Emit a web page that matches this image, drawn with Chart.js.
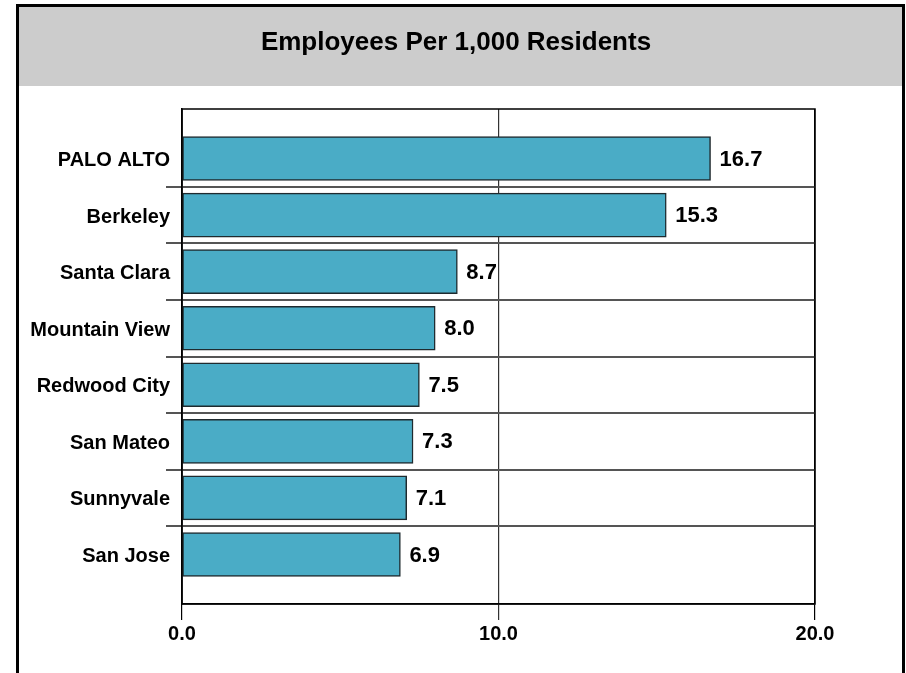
<!DOCTYPE html>
<html lang="en">
<head>
    <meta charset="UTF-8">
    <title>Employees Per 1,000 Residents</title>
    <style>
        html, body { margin: 0; padding: 0; background: #fff; }
        canvas { display: block; }
    </style>
</head>
<body>
    <canvas id="myChart" width="906" height="673"></canvas>

    <script src="https://cdn.jsdelivr.net/npm/chart.js"></script>
    <script>
        const chartTitle = 'Employees Per 1,000 Residents';
        const cities = ['PALO ALTO', 'Berkeley', 'Santa Clara', 'Mountain View', 'Redwood City', 'San Mateo', 'Sunnyvale', 'San Jose'];
        const employees = [16.7, 15.3, 8.7, 8.0, 7.5, 7.3, 7.1, 6.9];
        const xTicks = [0, 10, 20];

        const FONT = '"Liberation Sans", Arial, sans-serif';

        // grey header band, outer frame and title
        const background = {
            id: 'background',
            beforeDraw(chart) {
                const c = chart.ctx;
                c.save();
                c.fillStyle = '#fff';
                c.fillRect(0, 0, chart.width, chart.height);
                c.fillStyle = '#cccccc';
                c.fillRect(18, 6, 886, 80);
                c.strokeStyle = '#000';
                c.lineWidth = 3;
                c.beginPath();
                c.moveTo(17.5, 680);
                c.lineTo(17.5, 5.5);
                c.lineTo(903.5, 5.5);
                c.lineTo(903.5, 680);
                c.stroke();
                c.fillStyle = '#000';
                c.font = 'bold 26px ' + FONT;
                c.textAlign = 'center';
                c.textBaseline = 'alphabetic';
                c.fillText(chartTitle, 456, 50);
                c.restore();
            },
            afterDraw(chart) {
                const a = chart.chartArea;
                const c = chart.ctx;
                c.save();
                c.strokeStyle = '#000';
                c.lineWidth = 1.5;
                c.strokeRect(a.left, a.top, a.right - a.left, a.bottom - a.top);
                c.restore();
            }
        };

        // value text to the right of each bar
        const valueLabels = {
            id: 'valueLabels',
            afterDatasetsDraw(chart) {
                const c = chart.ctx;
                c.save();
                c.fillStyle = '#000';
                c.font = 'bold 22px ' + FONT;
                c.textAlign = 'left';
                c.textBaseline = 'middle';
                chart.getDatasetMeta(0).data.forEach((bar, i) => {
                    c.fillText(employees[i].toFixed(1), bar.x + 9, bar.y + 1);
                });
                c.restore();
            }
        };

        new Chart(document.getElementById('myChart'), {
            type: 'bar',
            data: {
                datasets: [{
                    data: employees.map((v, i) => ({ x: v, y: i })),
                    backgroundColor: '#4aacc6',
                    borderColor: '#1f2a2e',
                    borderWidth: 1.5,
                    borderSkipped: false,
                    barThickness: 44
                }]
            },
            options: {
                indexAxis: 'y',
                responsive: false,
                animation: false,
                layout: { padding: { top: 109, right: 91, bottom: 25, left: 0 } },
                plugins: {
                    legend: { display: false },
                    tooltip: { enabled: false }
                },
                scales: {
                    x: {
                        type: 'linear',
                        min: 0,
                        max: 20,
                        afterBuildTicks: scale => { scale.ticks = xTicks.map(v => ({ value: v })); },
                        afterFit: scale => { scale.height = 44; },
                        grid: {
                            color: ctx => ctx.tick && ctx.tick.value === 10 ? '#333' : '#000',
                            lineWidth: 1.2,
                            tickLength: 16
                        },
                        border: { color: '#000', width: 1.5 },
                        ticks: {
                            padding: 2,
                            color: '#000',
                            font: { family: FONT, size: 20, weight: 'bold' },
                            callback: v => v.toFixed(1)
                        }
                    },
                    y: {
                        type: 'linear',
                        reverse: true,
                        offset: false,
                        min: -0.875,
                        max: 7.875,
                        afterBuildTicks: scale => {
                            const t = [];
                            for (let i = 0; i < cities.length; i++) {
                                t.push({ value: i });
                                if (i < cities.length - 1) t.push({ value: i + 0.5 });
                            }
                            scale.ticks = t;
                        },
                        afterFit: scale => { scale.width = 182; },
                        grid: {
                            offset: false,
                            color: ctx => ctx.tick && Number.isInteger(ctx.tick.value) ? 'rgba(0,0,0,0)' : '#555',
                            lineWidth: 2,
                            tickLength: 16
                        },
                        border: { color: '#000', width: 1.5 },
                        ticks: {
                            padding: -4,
                            labelOffset: 2,
                            autoSkip: false,
                            color: '#000',
                            font: { family: FONT, size: 20, weight: 'bold' },
                            callback: v => Number.isInteger(v) ? cities[v] : ''
                        }
                    }
                }
            },
            plugins: [background, valueLabels]
        });
    </script>
</body>
</html>
